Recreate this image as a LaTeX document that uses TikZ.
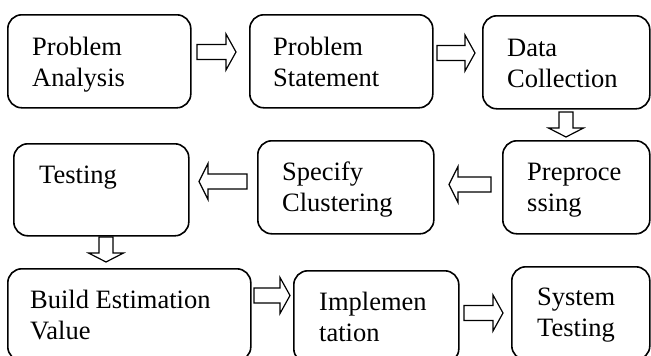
\documentclass[tikz,border=0pt]{standalone}
\usepackage{fontspec}
\setmainfont{Liberation Serif}
\begin{document}
\begin{tikzpicture}[x=1pt,y=-1pt,
  box/.style={draw=black, line width=1.6pt, rounded corners=14pt, anchor=north west, inner sep=0pt, fill=white},
  lbl/.style={anchor=base west, align=left, inner sep=0pt, font=\fontsize{26.5}{31}\selectfont},
  barrow/.style={draw=black, line width=1.2pt, fill=white, line join=miter}]
\useasboundingbox (0,0) rectangle (651,356);
\clip (0,0) rectangle (651,356);
% boxes
\node[box, minimum width=183pt, minimum height=93pt] (pa) at (7,14) {};
\node[box, minimum width=183pt, minimum height=93pt] (ps) at (249,14) {};
\node[box, minimum width=167pt, minimum height=93pt] (dc) at (482,15) {};
\node[box, minimum width=175pt, minimum height=92pt] (te) at (13,143) {};
\node[box, minimum width=176pt, minimum height=93pt] (sc) at (257,140) {};
\node[box, minimum width=147pt, minimum height=93pt] (pp) at (502,140) {};
\node[box, minimum width=243pt, minimum height=92pt] (be) at (7,268) {};
\node[box, minimum width=165pt, minimum height=92pt] (im) at (293,270) {};
\node[box, minimum width=138pt, minimum height=93pt] (st) at (511,266) {};
% labels (base anchor = baseline of the last line)
\node[lbl] (tpa) at (32,86) {Problem\\Analysis};
\node[lbl] (tps) at (273,86) {Problem\\Statement};
\node[lbl] (tdc) at (507,87) {Data\\Collection};
\node[lbl] (tte) at (39,183) {Testing};
\node[lbl] (tsc) at (282,211) {Specify\\Clustering};
\node[lbl] (tpp) at (527,211) {Preproce\\ssing};
\node[lbl] (tbe) at (30,339) {Build Estimation\\Value};
\node[lbl] (tim) at (319,341) {Implemen\\tation};
\node[lbl] (tst) at (537,336) {System\\Testing};
% block arrows
\newcommand{\rarrow}[3]{% x1 x2 yc
  \draw[barrow] (#1,#3-7.5) -- (#2-10,#3-7.5) -- (#2-10,#3-18) -- (#2,#3) -- (#2-10,#3+18) -- (#2-10,#3+7.5) -- (#1,#3+7.5) -- cycle;}
\newcommand{\larrow}[3]{% x1(start,right) x2(tip,left) yc
  \draw[barrow] (#1,#3-7.5) -- (#2+9,#3-7.5) -- (#2+9,#3-18) -- (#2,#3) -- (#2+9,#3+18) -- (#2+9,#3+7.5) -- (#1,#3+7.5) -- cycle;}
\newcommand{\darrow}[3]{% xc y1 y2(tip)
  \draw[barrow] (#1-7,#2) -- (#1-7,#3-9) -- (#1-17.5,#3-9) -- (#1,#3) -- (#1+17.5,#3-9) -- (#1+7,#3-9) -- (#1+7,#2) -- cycle;}
\rarrow{197}{236}{52}
\rarrow{437}{475}{53}
\darrow{566}{112}{137}
\larrow{491}{449}{184.5}
\larrow{247}{199}{181.5}
\darrow{106}{237}{262}
\rarrow{254}{290}{295.5}
\rarrow{464}{503}{313}
\end{tikzpicture}
\end{document}
